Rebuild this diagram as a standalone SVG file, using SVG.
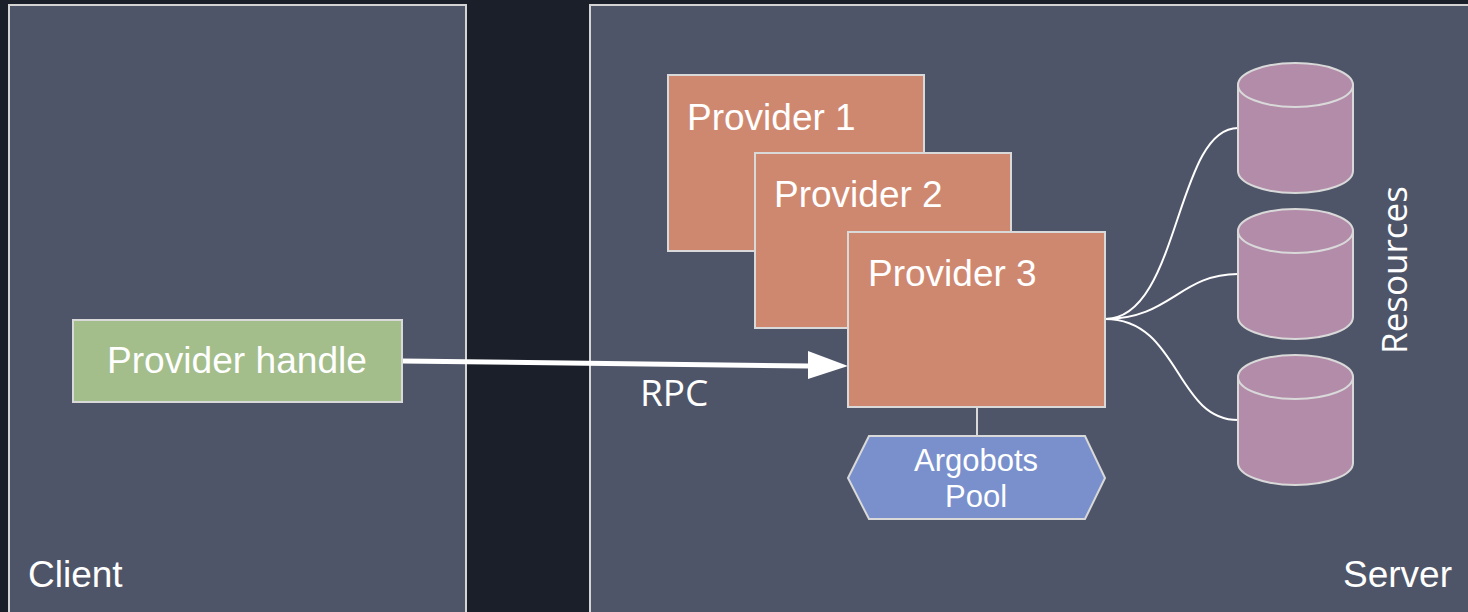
<svg xmlns="http://www.w3.org/2000/svg" width="1468" height="612" viewBox="0 0 1468 612">
<style>
.panel{fill:#4f5568;stroke:#d4d4d4;stroke-width:2}
.prov{fill:#cf8870;stroke:#d9d9d9;stroke-width:2}
.cyl{fill:#b28ca9;stroke:#d9d9d9;stroke-width:2}
.t{fill:#ffffff;font-family:"Liberation Sans",Arial,sans-serif}
.o{fill:#ffffff;font-family:"Open Sans","Noto Sans",sans-serif}
.wire{fill:none;stroke:#ffffff;stroke-width:2}
</style>
<rect x="0" y="0" width="1468" height="612" fill="#1b1f2a"/>
<g id="client">
<rect class="panel" x="9" y="5" width="457" height="620"/>
<text class="t" x="28" y="587" font-size="37">Client</text>
</g>
<g id="server">
<rect class="panel" x="590" y="5" width="890" height="620"/>
<text class="t" x="1452" y="587" font-size="37" text-anchor="end">Server</text>
</g>
<g id="connectors">
<path d="M402,361 L808,366" stroke="#ffffff" stroke-width="5" fill="none"/>
<path d="M808,351 L848,366 L808,379 Z" fill="#ffffff"/>
<line x1="977" y1="407" x2="977" y2="436" stroke="#d9d9d9" stroke-width="2"/>
<path class="wire" d="M1105,319 C1180,319 1175,128 1238,128"/>
<path class="wire" d="M1105,319 C1170,319 1180,274 1238,274"/>
<path class="wire" d="M1105,319 C1180,319 1175,420 1238,420"/>
<text class="o" x="640" y="406" font-size="37">RPC</text>
</g>
<g id="provider-handle">
<rect x="73" y="320" width="329" height="82" fill="#a3bd8b" stroke="#d9d9d9" stroke-width="2"/>
<text class="t" x="237" y="373" font-size="36" text-anchor="middle" textLength="260" lengthAdjust="spacingAndGlyphs">Provider handle</text>
</g>
<g id="provider1">
<rect class="prov" x="668" y="75" width="256" height="176"/>
<text class="t" x="687" y="130" font-size="37">Provider 1</text>
</g>
<g id="provider2">
<rect class="prov" x="755" y="153" width="256" height="175"/>
<text class="t" x="774" y="207" font-size="37">Provider 2</text>
</g>
<g id="provider3">
<rect class="prov" x="848" y="232" width="257" height="175"/>
<text class="t" x="868" y="286" font-size="37">Provider 3</text>
</g>
<g id="argobots-pool">
<polygon points="848,478 869,436 1085,436 1105,478 1085,519 869,519" fill="#7990cd" stroke="#d9d9d9" stroke-width="2"/>
<text class="t" x="976" y="471" font-size="31" text-anchor="middle">Argobots</text>
<text class="t" x="976" y="507" font-size="31" text-anchor="middle">Pool</text>
</g>
<g id="resource1">
<path class="cyl" d="M1238,85 A57.5,22 0 0 1 1353,85 L1353,171 A57.5,22 0 0 1 1238,171 Z"/>
<path class="cyl" d="M1238,85 A57.5,22 0 0 0 1353,85"/>
</g>
<g id="resource2">
<path class="cyl" d="M1238,231 A57.5,22 0 0 1 1353,231 L1353,317 A57.5,22 0 0 1 1238,317 Z"/>
<path class="cyl" d="M1238,231 A57.5,22 0 0 0 1353,231"/>
</g>
<g id="resource3">
<path class="cyl" d="M1238,377 A57.5,22 0 0 1 1353,377 L1353,463 A57.5,22 0 0 1 1238,463 Z"/>
<path class="cyl" d="M1238,377 A57.5,22 0 0 0 1353,377"/>
</g>
<g id="resources-label">
<text class="o" font-size="35" text-anchor="middle" transform="translate(1407,270) rotate(-90)">Resources</text>
</g>
</svg>
